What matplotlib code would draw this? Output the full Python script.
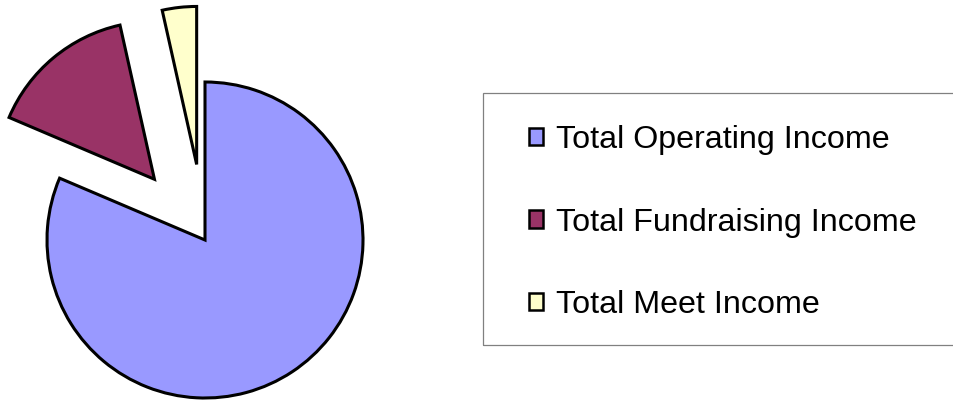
import matplotlib.pyplot as plt
from matplotlib.patches import Rectangle

# income shares (percent)
labels = ['Total Operating Income', 'Total Fundraising Income', 'Total Meet Income']
values = [81.4, 15.1, 3.5]
colors = ['#9999FF', '#993366', '#FFFFCC']

plt.rcParams['font.family'] = ['Liberation Sans', 'DejaVu Sans']

W, H = 954, 400
fig = plt.figure(figsize=(W / 100, H / 100), dpi=100)
ax = fig.add_axes([0, 0, 1, 1])

# pie drawn in pixel-like data units so placement is easy
R = 158
wedges, _ = ax.pie(values, colors=colors, startangle=90, counterclock=False,
                   center=(205, 160), radius=R, explode=[0, 79, 76],
                   wedgeprops=dict(edgecolor='black', linewidth=2.2))
ax.set_xlim(0, W)
ax.set_ylim(0, H)
ax.set_aspect('equal')
ax.axis('off')

# legend box (runs off the right edge like the original)
fig.patches.append(Rectangle((483 / W, (H - 345) / H), 0.6, 252 / H,
                             transform=fig.transFigure, fill=False,
                             edgecolor='#808080', linewidth=0.9))

leg = fig.legend(wedges, labels, loc='center left',
                 bbox_to_anchor=(529 / W, (H - 222.5) / H),
                 frameon=False, fontsize=23.2, borderpad=0, borderaxespad=0,
                 handlelength=0.44, handleheight=0.44, handletextpad=0.4,
                 labelspacing=1.62)
for h in leg.legend_handles:
    h.set_linewidth(1.8)

fig.savefig('out.png', dpi=100)
